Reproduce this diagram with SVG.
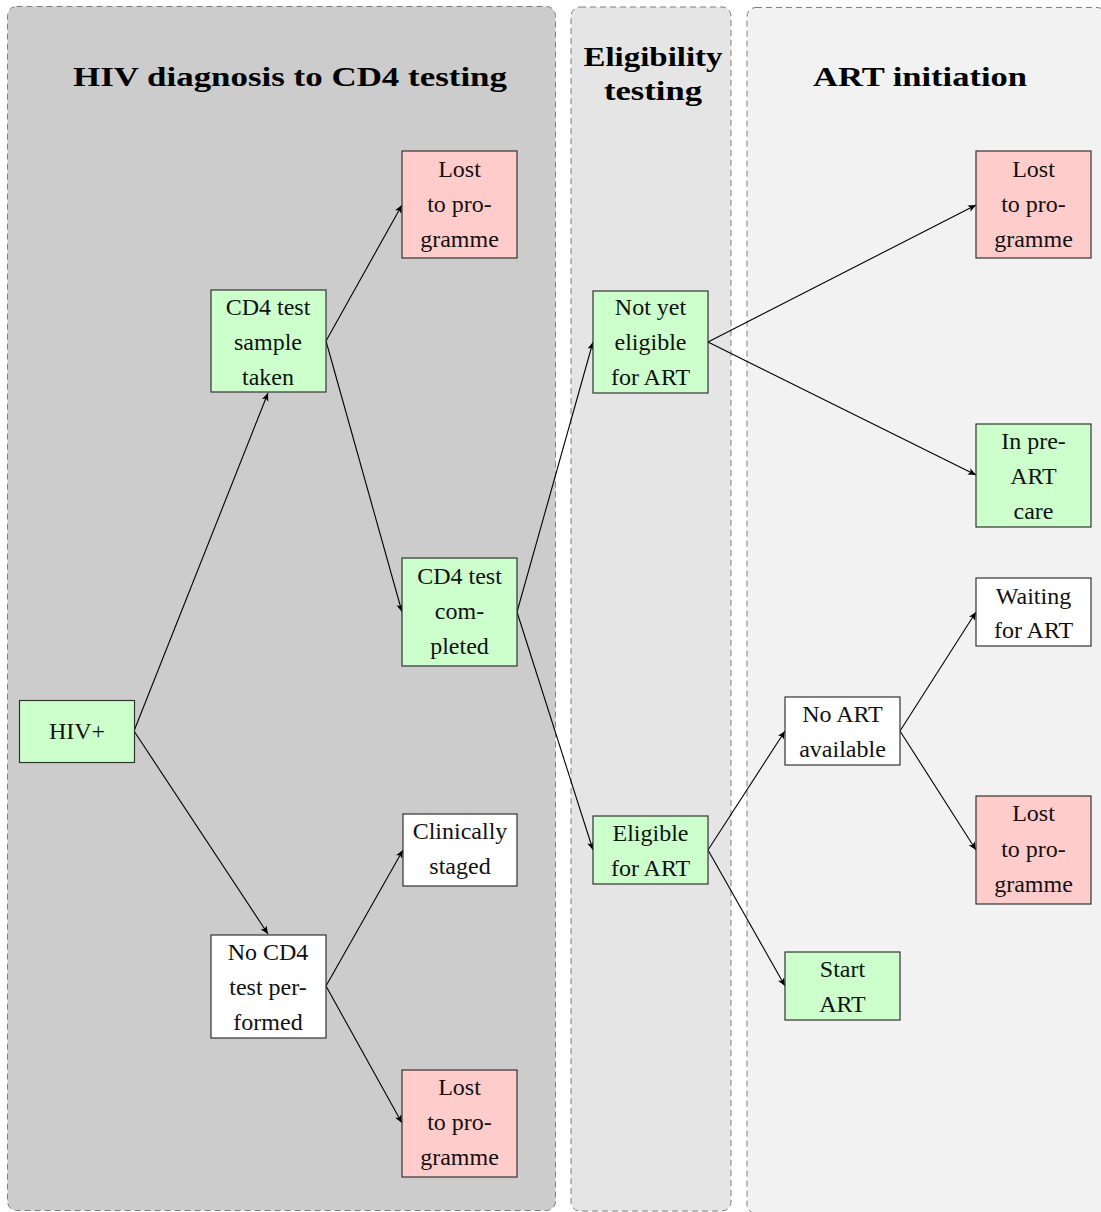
<svg xmlns="http://www.w3.org/2000/svg" width="1101" height="1212" viewBox="0 0 1101 1212">
<style>
.lane{stroke:#7f7f7f;stroke-width:1;stroke-dasharray:6,4}
.title{font-family:"Liberation Serif",serif;font-weight:bold;font-size:27px;fill:#000;text-anchor:middle}
.box{stroke:#333;stroke-width:1.2}
.g{fill:#ccffcc}.r{fill:#ffcccc}.w{fill:#ffffff}
.t{font-family:"Liberation Serif",serif;font-size:24px;fill:#111;text-anchor:middle}
.edge{fill:none;stroke:#000;stroke-width:1.1;marker-end:url(#ah)}
</style>
<defs>
<marker id="ah" markerWidth="10" markerHeight="8" refX="8" refY="3.5" orient="auto" markerUnits="userSpaceOnUse">
<path d="M0,0 L8,3.5 L0,7 L2,3.5 z" fill="#000"/>
</marker>
</defs>
<rect width="1101" height="1212" fill="#fff"/>
<g id="lanes">
<rect id="lane1" class="lane" x="7.5" y="6.5" width="548" height="1204" rx="9" fill="#cccccc"/>
<rect id="lane2" class="lane" x="571" y="7" width="160" height="1204" rx="9" fill="#e5e5e5"/>
<rect id="lane3" class="lane" x="747" y="7.5" width="359" height="1206" rx="9" fill="#f2f2f2"/>
<text class="title" x="290" y="86" textLength="434" lengthAdjust="spacingAndGlyphs">HIV diagnosis to CD4 testing</text>
<text class="title" x="653" y="66" textLength="139" lengthAdjust="spacingAndGlyphs">Eligibility</text>
<text class="title" x="653" y="100" textLength="98" lengthAdjust="spacingAndGlyphs">testing</text>
<text class="title" x="920" y="86" textLength="214" lengthAdjust="spacingAndGlyphs">ART initiation</text>
</g>
<g id="connectors">
<line class="edge" x1="134" y1="731" x2="268" y2="393"/>
<line class="edge" x1="134" y1="731" x2="268" y2="934"/>
<line class="edge" x1="326" y1="341" x2="402" y2="205"/>
<line class="edge" x1="326" y1="341" x2="402" y2="612"/>
<line class="edge" x1="326" y1="986" x2="403" y2="850"/>
<line class="edge" x1="326" y1="986" x2="402" y2="1123"/>
<line class="edge" x1="517" y1="612" x2="593" y2="342"/>
<line class="edge" x1="517" y1="612" x2="593" y2="850"/>
<line class="edge" x1="708" y1="342" x2="976" y2="205"/>
<line class="edge" x1="708" y1="342" x2="976" y2="475"/>
<line class="edge" x1="708" y1="850" x2="785" y2="731"/>
<line class="edge" x1="708" y1="850" x2="785" y2="986"/>
<line class="edge" x1="900" y1="731" x2="976" y2="612"/>
<line class="edge" x1="900" y1="731" x2="976" y2="850"/>
</g>
<g id="hiv">
<rect class="box g" x="19.5" y="700.5" width="115" height="62"/>
<text class="t" x="77" y="739">HIV+</text>
</g>
<g id="sample">
<rect class="box g" x="211" y="290" width="115" height="102"/>
<text class="t" x="268" y="315">CD4 test</text>
<text class="t" x="268" y="350">sample</text>
<text class="t" x="268" y="385">taken</text>
</g>
<g id="lost1">
<rect class="box r" x="402" y="151" width="115" height="107"/>
<text class="t" x="459.5" y="177">Lost</text>
<text class="t" x="459.5" y="212">to pro-</text>
<text class="t" x="459.5" y="247">gramme</text>
</g>
<g id="completed">
<rect class="box g" x="402" y="558" width="115" height="108"/>
<text class="t" x="459.5" y="584">CD4 test</text>
<text class="t" x="459.5" y="619">com-</text>
<text class="t" x="459.5" y="654">pleted</text>
</g>
<g id="staged">
<rect class="box w" x="403" y="814" width="114" height="72"/>
<text class="t" x="460" y="839">Clinically</text>
<text class="t" x="460" y="874">staged</text>
</g>
<g id="nocd4">
<rect class="box w" x="211" y="935" width="115" height="103"/>
<text class="t" x="268" y="960">No CD4</text>
<text class="t" x="268" y="995">test per-</text>
<text class="t" x="268" y="1030">formed</text>
</g>
<g id="lost2">
<rect class="box r" x="402" y="1070" width="115" height="107"/>
<text class="t" x="459.5" y="1095">Lost</text>
<text class="t" x="459.5" y="1130">to pro-</text>
<text class="t" x="459.5" y="1165">gramme</text>
</g>
<g id="noteligible">
<rect class="box g" x="593" y="291" width="115" height="102"/>
<text class="t" x="650.5" y="315">Not yet</text>
<text class="t" x="650.5" y="350">eligible</text>
<text class="t" x="650.5" y="385">for ART</text>
</g>
<g id="eligible">
<rect class="box g" x="593" y="816" width="115" height="68"/>
<text class="t" x="650.5" y="841">Eligible</text>
<text class="t" x="650.5" y="876">for ART</text>
</g>
<g id="lost3">
<rect class="box r" x="976" y="151" width="115" height="107"/>
<text class="t" x="1033.5" y="177">Lost</text>
<text class="t" x="1033.5" y="212">to pro-</text>
<text class="t" x="1033.5" y="247">gramme</text>
</g>
<g id="preart">
<rect class="box g" x="976" y="424" width="115" height="103"/>
<text class="t" x="1033.5" y="449">In pre-</text>
<text class="t" x="1033.5" y="484">ART</text>
<text class="t" x="1033.5" y="519">care</text>
</g>
<g id="waiting">
<rect class="box w" x="976" y="578" width="115" height="68"/>
<text class="t" x="1033.5" y="604">Waiting</text>
<text class="t" x="1033.5" y="638">for ART</text>
</g>
<g id="noart">
<rect class="box w" x="785" y="697" width="115" height="68"/>
<text class="t" x="842.5" y="722">No ART</text>
<text class="t" x="842.5" y="757">available</text>
</g>
<g id="lost4">
<rect class="box r" x="976" y="796" width="115" height="108"/>
<text class="t" x="1033.5" y="821">Lost</text>
<text class="t" x="1033.5" y="857">to pro-</text>
<text class="t" x="1033.5" y="892">gramme</text>
</g>
<g id="start">
<rect class="box g" x="785" y="952" width="115" height="68"/>
<text class="t" x="842.5" y="977">Start</text>
<text class="t" x="842.5" y="1012">ART</text>
</g>
</svg>
